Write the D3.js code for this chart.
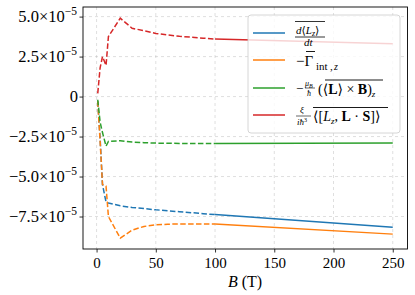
<!DOCTYPE html>
<html><head><meta charset="utf-8">
<script src="https://cdn.jsdelivr.net/npm/d3@7"></script>
<style>
html,body{margin:0;padding:0;background:#fff;}
svg text{font-family:"Liberation Serif","DejaVu Serif",serif;fill:#000;}
</style></head>
<body><svg id="c" width="415" height="295"></svg>
<script>
// ---- data ----
const seriesNames = ["dLdt", "gammaInt", "LxB", "commutator"];
const colors = ["#1f77b4", "#ff7f0e", "#2ca02c", "#d62728"];
// dashed part (low field)
const Blow = [1, 3, 5, 8, 10, 20, 30, 40, 50, 60, 70, 80, 90, 100];
const dLdtLow  = [-0.3e-5, -2.6e-5, -5.5e-5, -6.6e-5, -6.65e-5, -6.83e-5, -6.93e-5, -7.0e-5, -7.08e-5, -7.14e-5, -7.2e-5, -7.26e-5, -7.32e-5, -7.38e-5];
const gammaLow = [-0.3e-5, -2.8e-5, -5.5e-5, -5.6e-5, -7.5e-5, -8.85e-5, -8.35e-5, -8.12e-5, -8.02e-5, -7.98e-5, -7.96e-5, -7.96e-5, -7.96e-5, -7.96e-5];
const LxBLow   = [-0.2e-5, -1.6e-5, -2.25e-5, -3.1e-5, -2.8e-5, -2.76e-5, -2.84e-5, -2.88e-5, -2.91e-5, -2.92e-5, -2.93e-5, -2.93e-5, -2.94e-5, -2.94e-5];
const commLow  = [0.2e-5, 1.8e-5, 2.5e-5, 1.95e-5, 3.75e-5, 4.9e-5, 4.27e-5, 4.12e-5, 3.95e-5, 3.85e-5, 3.77e-5, 3.71e-5, 3.65e-5, 3.6e-5];
// solid part (high field)
const Bhigh = [100, 250];
const dLdtHigh  = [-7.38e-5, -8.17e-5];
const gammaHigh = [-7.96e-5, -8.6e-5];
const LxBHigh   = [-2.94e-5, -2.91e-5];
const commHigh  = [3.6e-5, 3.3e-5];
// ticks
const xTicks = [0, 50, 100, 150, 200, 250];
const yTicks = [5.0e-5, 2.5e-5, 0, -2.5e-5, -5.0e-5, -7.5e-5];
const yTickMant = ["5.0", "2.5", "0", "\u22122.5", "\u22125.0", "\u22127.5"];
const xLabel = "B";
const xUnit = " (T)";

const lowSets = [dLdtLow, gammaLow, LxBLow, commLow];
const highSets = [dLdtHigh, gammaHigh, LxBHigh, commHigh];

const svg = d3.select("#c");
const L = 83, R = 407.5, T = 7, Bm = 249;
const x = d3.scaleLinear().domain([-11.45, 262.45]).range([L, R]);
const y = d3.scaleLinear().domain([-9.53e-5, 5.6e-5]).range([Bm, T]);

// grid
const grid = svg.append("g");
xTicks.forEach(t => grid.append("line").attr("x1", x(t)).attr("x2", x(t)).attr("y1", T).attr("y2", Bm)
  .attr("stroke", "#b0b0b0").attr("stroke-opacity", 0.5).attr("stroke-width", 0.8).attr("stroke-dasharray", "3,3"));
yTicks.forEach(t => grid.append("line").attr("x1", L).attr("x2", R).attr("y1", y(t)).attr("y2", y(t))
  .attr("stroke", "#b0b0b0").attr("stroke-opacity", 0.5).attr("stroke-width", 0.8).attr("stroke-dasharray", "3,3"));

// lines
const line = (xs) => d3.line().x((d, i) => x(xs[i])).y(d => y(d));
lowSets.forEach((s, i) => svg.append("path").attr("d", line(Blow)(s)).attr("fill", "none")
  .attr("stroke", colors[i]).attr("stroke-width", 1.5).attr("stroke-dasharray", "5.5,2.4"));
highSets.forEach((s, i) => svg.append("path").attr("d", line(Bhigh)(s)).attr("fill", "none")
  .attr("stroke", colors[i]).attr("stroke-width", 1.5));

// axes
const xAxis = d3.axisBottom(x).tickValues(xTicks).tickSize(3.5).tickFormat(d => d);
const gx = svg.append("g").attr("transform", `translate(0,${Bm})`).call(xAxis);
gx.attr("font-family", null);
gx.select(".domain").remove();
gx.selectAll("line").attr("stroke", "#000").attr("stroke-width", 0.8);
gx.selectAll("text").attr("font-size", 15).attr("y", 6).attr("dy", "0.85em");

const yAxis = d3.axisLeft(y).tickValues(yTicks).tickSize(3.5).tickFormat("");
const gy = svg.append("g").attr("transform", `translate(${L},0)`).call(yAxis);
gy.select(".domain").remove();
gy.selectAll("line").attr("stroke", "#000").attr("stroke-width", 0.8);
yTicks.forEach((t, i) => {
  const tx = svg.append("text").attr("x", L - 6).attr("y", y(t) + 5).attr("text-anchor", "end").attr("font-size", 16.5);
  if (t === 0) { tx.attr("x", L - 5).text("0"); return; }
  tx.append("tspan").text(yTickMant[i] + "\u00d710");
  tx.append("tspan").attr("dy", -7).attr("font-size", 11.5).text("\u22125");
});

// frame
svg.append("rect").attr("x", L).attr("y", T).attr("width", R - L).attr("height", Bm - T)
  .attr("fill", "none").attr("stroke", "#000").attr("stroke-width", 0.9);

// x label
const xl = svg.append("text").attr("x", 245).attr("y", 287).attr("text-anchor", "middle").attr("font-size", 16);
xl.append("tspan").attr("font-style", "italic").text(xLabel);
xl.append("tspan").text(xUnit);

// legend
const lg = svg.append("g");
lg.append("rect").attr("x", 248).attr("y", 15).attr("width", 152).attr("height", 118).attr("rx", 3)
  .attr("fill", "#fff").attr("fill-opacity", 0.8).attr("stroke", "#ccc").attr("stroke-width", 0.8);
const rowY = [33, 60, 88, 115];
rowY.forEach((ry, i) => lg.append("line").attr("x1", 253).attr("x2", 285).attr("y1", ry).attr("y2", ry)
  .attr("stroke", colors[i]).attr("stroke-width", 1.5));

function t(g, xx, yy, size, txt, italic, bold) {
  const e = g.append("text").attr("x", xx).attr("y", yy).attr("font-size", size).text(txt);
  if (italic) e.attr("font-style", "italic");
  if (bold) e.attr("font-weight", "bold");
  return e;
}
function hl(g, x1, x2, yy, w) {
  g.append("line").attr("x1", x1).attr("x2", x2).attr("y1", yy).attr("y2", yy).attr("stroke", "#000").attr("stroke-width", w || 0.8);
}
// entry 1: overline d<L_z>/dt
{
  const e = t(lg, 296, 34, 11, "", false);
  e.append("tspan").attr("font-style", "italic").text("d");
  e.append("tspan").text("\u27e8");
  e.append("tspan").attr("font-style", "italic").text("L");
  e.append("tspan").attr("font-style", "italic").attr("font-size", 8).attr("dy", 2).text("z");
  e.append("tspan").attr("dy", -2).text("\u27e9");
  hl(lg, 295, 325, 21.5);
  hl(lg, 295, 325, 37);
  t(lg, 304, 46, 11, "dt", true);
}
// entry 2: -Gamma_int,z
{
  t(lg, 296, 66, 15, "\u2212\u0393", false);
  hl(lg, 306, 315, 51.5, 0.9);
  t(lg, 316, 70, 11, "int", false);
  t(lg, 330, 70, 11, ",", false);
  t(lg, 334, 70, 10, "z", true);
}
// entry 3: -(mu_B/hbar) overline(<L> x B)_z
{
  t(lg, 296, 93, 13, "\u2212", false);
  const n = t(lg, 305, 86, 8, "", false);
  n.append("tspan").attr("font-style", "italic").text("\u03bc");
  n.append("tspan").attr("font-style", "italic").attr("font-size", 6).attr("dy", 1.5).text("B");
  hl(lg, 305, 315, 88, 0.6);
  t(lg, 307, 96, 8, "\u0127", true);
  const m = t(lg, 318, 94, 14, "", false);
  m.append("tspan").text("(\u27e8");
  m.append("tspan").attr("font-weight", "bold").text("L");
  m.append("tspan").text("\u27e9 \u00d7 ");
  m.append("tspan").attr("font-weight", "bold").text("B");
  m.append("tspan").text(")");
  m.append("tspan").attr("font-style", "italic").attr("font-size", 9).attr("dy", 3).text("z");
  hl(lg, 325, 383, 80, 0.9);
}
// entry 4: xi/(i hbar^3) overline<[L_z, L.S]>
{
  t(lg, 300, 113, 9, "\u03be", true);
  hl(lg, 296, 311, 116, 0.6);
  const d = t(lg, 297, 125, 9, "", true);
  d.append("tspan").text("i\u0127");
  d.append("tspan").attr("font-style", "normal").attr("font-size", 6).attr("dy", -3).text("3");
  const m = t(lg, 313, 121, 14, "", false);
  m.append("tspan").text("\u27e8[");
  m.append("tspan").attr("font-style", "italic").text("L");
  m.append("tspan").attr("font-style", "italic").attr("font-size", 9).attr("dy", 3).text("z");
  m.append("tspan").attr("dy", -3).text(", ");
  m.append("tspan").attr("font-weight", "bold").text("L");
  m.append("tspan").text(" \u00b7 ");
  m.append("tspan").attr("font-weight", "bold").text("S");
  m.append("tspan").text("]\u27e9");
  hl(lg, 313, 388, 107.5, 0.9);
}
</script></body></html>
